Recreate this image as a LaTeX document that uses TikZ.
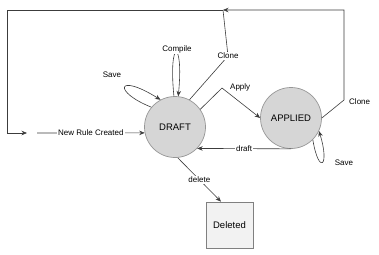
\documentclass[tikz,border=0pt]{standalone}
\usepackage{fontspec}
\setmainfont{Liberation Sans}
\usetikzlibrary{positioning,arrows.meta,calc}
\definecolor{linegray}{RGB}{60,60,60}
\definecolor{circlefill}{RGB}{214,214,214}
\definecolor{circleedge}{RGB}{150,150,150}
\definecolor{boxfill}{RGB}{242,242,242}
\definecolor{boxedge}{RGB}{128,128,128}
\tikzset{
  flowarrow/.style={-{Stealth[length=5.5pt,width=4.5pt]}, line width=0.6pt, draw=linegray},
  plainline/.style={line width=0.6pt, draw=linegray},
  statenode/.style={circle, draw=circleedge, fill=circlefill, line width=0.7pt, minimum size=61pt, inner sep=0pt, font=\fontsize{9.5}{11}\selectfont},
  endnode/.style={rectangle, draw=boxedge, fill=boxfill, line width=0.7pt, minimum width=47pt, minimum height=46pt, inner sep=0pt, font=\fontsize{9.5}{11}\selectfont},
  relabel/.style={font=\fontsize{8}{9}\selectfont, fill=white, inner sep=1pt}
}
\begin{document}
\begin{tikzpicture}[x=1pt, y=-1pt]
  \useasboundingbox (0,0) rectangle (379,254);
  \node[statenode] (draft) at (175,127) {DRAFT};
  \node[statenode] (applied) at (291,118) {APPLIED};
  \node[endnode] (deleted) at (229.5,225) {Deleted};
  \coordinate (merge) at (223,10);
  \coordinate (topleft) at (7,10);
  \coordinate (loopin) at (27,133);
  \coordinate (newrule) at (37,133);
  \coordinate (clonebend) at (228,56);
  \coordinate (cloneturn) at (344,100);
  \coordinate (applybend) at (222,88);
  % entry into the draft state
  \draw[flowarrow] (merge) -- (topleft) -- (topleft |- loopin) -- (loopin);
  \draw[flowarrow] (newrule) -- node[relabel] {New Rule Created} (draft.191);
  % loops on draft
  \draw[flowarrow] (draft.92) .. controls (168,38) and (184,38) .. (draft.84);
  \node[relabel] (compilelbl) at (177,49) {Compile};
  \draw[flowarrow] (draft.140) .. controls (113,92) and (116,72) .. (draft.118);
  \node[relabel] (savelbl) at (112,75) {Save};
  % clone edges
  \draw[plainline] (draft.62) -- (clonebend) -- (merge);
  \node[relabel] (clonelbl) at (clonebend) {Clone};
  \draw[flowarrow] (applied.east) -- (cloneturn) -- (cloneturn |- merge) -- (merge);
  \node[relabel, anchor=west] (clonelblb) at ($(cloneturn)+(4,2)$) {Clone};
  % apply and back
  \draw[flowarrow] (draft.35) -- (applybend) -- (applied.west);
  \node[relabel, fill=none, anchor=west] (applylbl) at ($(applybend)+(7,-1)$) {Apply};
  \draw[flowarrow] (applied.south) -- node[relabel] {draft} (draft.-44);
  \draw[flowarrow] (applied.-45) .. controls (319,176) and (330,166) .. (applied.-25);
  \node[relabel] (savelblb) at (344,163) {Save};
  % delete
  \draw[flowarrow] (draft.-85) -- node[relabel] {delete} (deleted.110);
\end{tikzpicture}
\end{document}
